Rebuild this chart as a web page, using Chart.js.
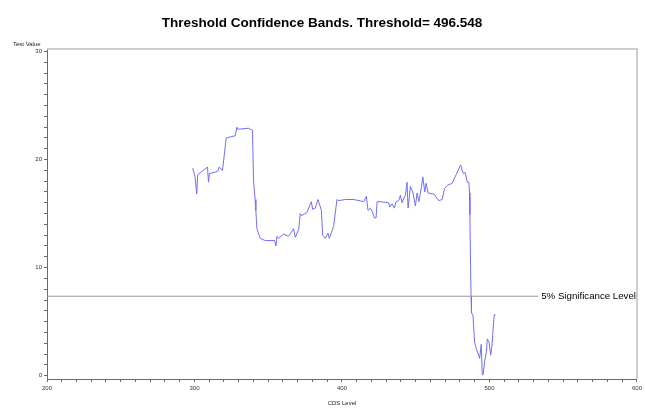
<!DOCTYPE html>
<html lang="en">
<head>
    <meta charset="UTF-8">
    <title>Threshold Confidence Bands</title>
    <script src="https://cdn.jsdelivr.net/npm/chart.js"></script>
    <style>
        body { margin: 0; background: #fff; }
        canvas { display: block; }
    </style>
</head>
<body>
    <canvas id="bandChart" width="645" height="417"></canvas>

    <script>
        // values
        const cdsLevel = [
            298.8, 300.4, 301.5, 302.2, 308.8, 309.5, 310.1, 315.8, 316.7, 319.0,
            321.5, 327.6, 328.7, 329.4, 336.6, 339.3, 340.0, 341.1, 341.6, 342.3,
            344.6, 348.0, 354.3, 355.2, 355.9, 357.0, 360.4, 363.8, 367.2, 368.3,
            370.6, 371.7, 372.4, 376.2, 379.2, 380.1, 381.9, 383.7, 386.0, 386.9,
            388.7, 390.5, 391.4, 394.3, 396.6, 397.7, 402.3, 408.0, 414.8, 416.5,
            417.6, 419.3, 420.4, 422.0, 423.1, 423.8, 426.0, 431.7, 432.4, 433.9,
            435.5, 436.6, 438.5, 439.6, 440.7, 443.0, 444.1, 444.8, 445.7, 446.4,
            448.0, 449.8, 450.9, 452.1, 453.9, 454.8, 456.1, 457.0, 458.4, 462.3,
            465.6, 467.9, 469.5, 471.3, 474.7, 477.4, 480.4, 482.2, 483.5, 484.9,
            486.0, 486.5, 486.7, 487.2, 487.5, 487.8, 488.8, 489.9, 491.0, 492.6,
            493.3, 494.4, 495.1, 495.6, 496.7, 497.9, 498.5, 499.7, 500.8, 501.6,
            502.5, 503.2, 503.7
        ];
        const testValue = [
            19.2, 18.4, 16.8, 18.6, 19.3, 17.9, 18.7, 18.9, 19.3, 19.0,
            22.0, 22.2, 23.0, 22.8, 22.9, 22.7, 18.1, 16.3, 15.3, 13.6,
            12.7, 12.5, 12.5, 12.0, 12.9, 12.7, 13.1, 12.9, 13.6, 12.8,
            13.5, 15.0, 14.8, 15.1, 16.1, 15.4, 15.5, 16.3, 15.3, 13.0,
            12.7, 13.2, 12.7, 13.8, 16.3, 16.2, 16.3, 16.3, 16.1, 16.6,
            15.3, 15.5, 15.2, 14.6, 14.6, 16.1, 16.1, 16.0, 15.6, 15.9,
            15.5, 16.1, 16.2, 16.7, 16.0, 16.7, 17.9, 15.5, 16.6, 17.5,
            17.0, 15.7, 16.9, 16.1, 17.5, 18.4, 17.0, 17.8, 16.9, 16.8,
            16.2, 16.3, 17.3, 17.6, 17.8, 18.6, 19.5, 18.7, 18.8, 17.9,
            17.9, 16.9, 14.9, 9.8, 7.3, 5.8, 5.6, 3.1, 2.5, 1.9,
            1.6, 2.9, 0.1, 0.05, 1.3, 2.2, 3.4, 3.1, 1.9, 2.7,
            4.4, 5.6, 5.7
        ];
        const sigLevel = 7.35;
        const sigLabel = "5% Significance Level";
        const xRange = [200, 600];
        const yRange = [-0.31, 30.23];
        const xMajorTicks = [200, 300, 400, 500, 600];
        const yMajorTicks = [0, 10, 20, 30];

        const FONT = "'Liberation Sans', Arial, sans-serif";

        // title, y label, frame and the label on the significance line
        const decorations = {
            id: "decorations",
            afterDraw(chart) {
                const ctx = chart.ctx;
                const area = chart.chartArea;
                ctx.save();

                ctx.strokeStyle = "#bdbdbd";
                ctx.lineWidth = 1.5;
                ctx.beginPath();
                ctx.moveTo(area.left, area.top);
                ctx.lineTo(area.right, area.top);
                ctx.lineTo(area.right, area.bottom);
                ctx.stroke();

                const y = chart.scales.y.getPixelForValue(sigLevel);
                ctx.font = "9.7px " + FONT;
                const w = ctx.measureText(sigLabel).width;
                ctx.fillStyle = "#fff";
                ctx.fillRect(area.right - w - 4, y - 6, w + 3, 12);
                ctx.fillStyle = "#000";
                ctx.textAlign = "right";
                ctx.textBaseline = "middle";
                ctx.fillText(sigLabel, area.right - 1, y);

                ctx.font = "bold 13.5px " + FONT;
                ctx.textAlign = "center";
                ctx.textBaseline = "alphabetic";
                ctx.fillText("Threshold Confidence Bands. Threshold= 496.548", 322, 27);

                ctx.font = "6px " + FONT;
                ctx.fillStyle = "#222";
                ctx.textAlign = "left";
                ctx.textBaseline = "middle";
                ctx.fillText("Test Value", 13, 44);
                ctx.restore();
            }
        };

        new Chart(document.getElementById("bandChart").getContext("2d"), {
            type: "scatter",
            data: {
                datasets: [
                    {
                        data: cdsLevel.map((x, i) => ({ x: x, y: testValue[i] })),
                        showLine: true,
                        borderColor: "#6f6ff7",
                        borderWidth: 1,
                        pointRadius: 0,
                        tension: 0
                    },
                    {
                        data: [{ x: xRange[0], y: sigLevel }, { x: xRange[1], y: sigLevel }],
                        showLine: true,
                        borderColor: "#9a9a9a",
                        borderWidth: 1,
                        pointRadius: 0
                    }
                ]
            },
            options: {
                responsive: false,
                animation: false,
                layout: { padding: { top: 49, right: 8, left: 0, bottom: 0 } },
                plugins: { legend: { display: false }, tooltip: { enabled: false } },
                scales: {
                    x: {
                        type: "linear",
                        min: xRange[0],
                        max: xRange[1],
                        afterFit: s => { s.height = 38; },
                        border: { color: "#6a6a6a", width: 1 },
                        grid: { drawOnChartArea: false, tickLength: 3, color: "#6a6a6a" },
                        ticks: {
                            stepSize: 10,
                            autoSkip: false,
                            maxRotation: 0,
                            padding: 3,
                            color: "#333",
                            font: { size: 6, family: FONT },
                            callback: v => xMajorTicks.includes(v) ? v : ""
                        },
                        title: {
                            display: true,
                            text: "CDS Level",
                            color: "#222",
                            font: { size: 6, family: FONT },
                            padding: { top: 0, bottom: 10 }
                        }
                    },
                    y: {
                        min: yRange[0],
                        max: yRange[1],
                        afterFit: s => { s.width = 47; },
                        border: { color: "#6a6a6a", width: 1 },
                        grid: { drawOnChartArea: false, tickLength: 3, color: "#6a6a6a" },
                        ticks: {
                            stepSize: 1,
                            includeBounds: false,
                            autoSkip: false,
                            padding: 2,
                            color: "#333",
                            font: { size: 6, family: FONT },
                            callback: v => yMajorTicks.includes(v) ? v : ""
                        }
                    }
                }
            },
            plugins: [decorations]
        });
    </script>
</body>
</html>
